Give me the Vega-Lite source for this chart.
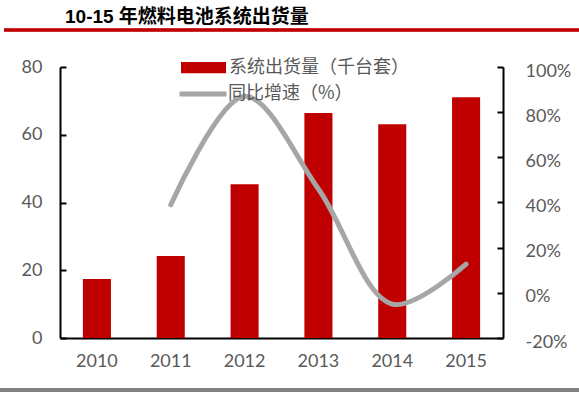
{
  "$schema": "https://vega.github.io/schema/vega-lite/v6.json",
  "width": 443,
  "height": 271,
  "autosize": {"type": "none"},
  "padding": {"left": 60, "top": 67, "right": 76, "bottom": 56},
  "background": "white",
  "config": {
    "view": {"stroke": null},
    "axis": {
      "labelFont": "Lato",
      "labelFontSize": 18,
      "labelColor": "#595959",
      "domainColor": "black",
      "tickColor": "black",
      "domainWidth": 2,
      "tickWidth": 2,
      "grid": false,
      "title": null
    }
  },
  "title": {
    "text": "10-15 年燃料电池系统出货量",
    "anchor": "start",
    "frame": "group",
    "dx": 5,
    "offset": -13,
    "fontSize": 19,
    "font": "Liberation Sans, Noto Sans CJK SC",
    "fontWeight": "bold",
    "color": "black",
    "baseline": "alphabetic"
  },
  "data": {
    "values": [
      {"year": "2010", "shipment": 17.4, "growth": null},
      {"year": "2011", "shipment": 24.2, "growth": 0.39},
      {"year": "2012", "shipment": 45.4, "growth": 0.87},
      {"year": "2013", "shipment": 66.4, "growth": 0.46},
      {"year": "2014", "shipment": 63.1, "growth": -0.05},
      {"year": "2015", "shipment": 71.1, "growth": 0.127}
    ]
  },
  "layer": [
    {
      "mark": {"type": "bar"},
      "encoding": {
        "x": {
          "field": "year", "type": "ordinal",
          "scale": {"paddingInner": 0.62, "paddingOuter": 0.31},
          "axis": {"orient": "bottom", "ticks": false, "labelPadding": 14, "labelAngle": 0}
        },
        "y": {
          "field": "shipment", "type": "quantitative",
          "scale": {"domain": [0, 80], "nice": false},
          "axis": {"orient": "left", "values": [0, 20, 40, 60, 80], "tickSize": -6, "labelPadding": 24}
        },
        "fill": {
          "datum": "系统出货量（千台套）", "type": "nominal",
          "scale": {"range": ["#c00000"]},
          "legend": {
            "orient": "none", "legendX": 121, "legendY": -22,
            "symbolType": "M-1,-0.25H1V0.25H-1Z", "symbolSize": 2025,
            "symbolStrokeWidth": 0,
            "labelFont": "Noto Sans CJK SC", "labelFontSize": 18, "labelLimit": 400,
            "labelColor": "#595959", "labelOffset": 3, "title": null
          }
        }
      }
    },
    {
      "transform": [{"filter": "datum.growth != null"}],
      "mark": {"type": "line", "interpolate": "catmull-rom", "strokeWidth": 5, "strokeCap": "round"},
      "encoding": {
        "x": {
          "field": "year", "type": "ordinal",
          "scale": {"domain": ["2010", "2011", "2012", "2013", "2014", "2015"], "paddingInner": 0.62, "paddingOuter": 0.31},
          "axis": null
        },
        "y": {
          "field": "growth", "type": "quantitative",
          "scale": {"domain": [-0.2, 1], "nice": false},
          "axis": {"orient": "right", "format": ".0%", "labelExpr": "replace(datum.label, '−', '-')", "values": [-0.2, 0, 0.2, 0.4, 0.6, 0.8, 1], "tickSize": -6, "labelPadding": 28, "labelOffset": 4}
        },
        "stroke": {
          "datum": "同比增速（%）", "type": "nominal",
          "scale": {"range": ["#a6a6a6"]},
          "legend": {
            "orient": "none", "legendX": 117, "legendY": 1,
            "symbolType": "stroke", "symbolSize": 2209, "symbolStrokeWidth": 5,
            "labelFont": "Noto Sans CJK SC", "labelFontSize": 18, "labelLimit": 400,
            "labelColor": "#595959", "labelOffset": -1, "title": null
          }
        }
      }
    },
    {
      "mark": {"type": "rule", "clip": false, "color": "#c00000", "strokeWidth": 2.5},
      "encoding": {
        "x": {"datum": -0.1264, "type": "quantitative", "scale": {"domain": [0, 1], "nice": false, "zero": false}, "axis": null},
        "x2": {"datum": 1.1716},
        "y": {"datum": 90.9, "type": "quantitative", "scale": {"domain": [0, 80], "nice": false}, "axis": null}
      }
    },
    {
      "mark": {"type": "rule", "clip": false, "color": "#808080", "strokeWidth": 3},
      "encoding": {
        "x": {"datum": -0.1354, "type": "quantitative", "scale": {"domain": [0, 1], "nice": false, "zero": false}, "axis": null},
        "x2": {"datum": 1.1716},
        "y": {"datum": -15.35, "type": "quantitative", "scale": {"domain": [0, 80], "nice": false}, "axis": null}
      }
    }
  ],
  "resolve": {"scale": {"x": "independent", "y": "independent", "fill": "independent", "stroke": "independent"}}
}
